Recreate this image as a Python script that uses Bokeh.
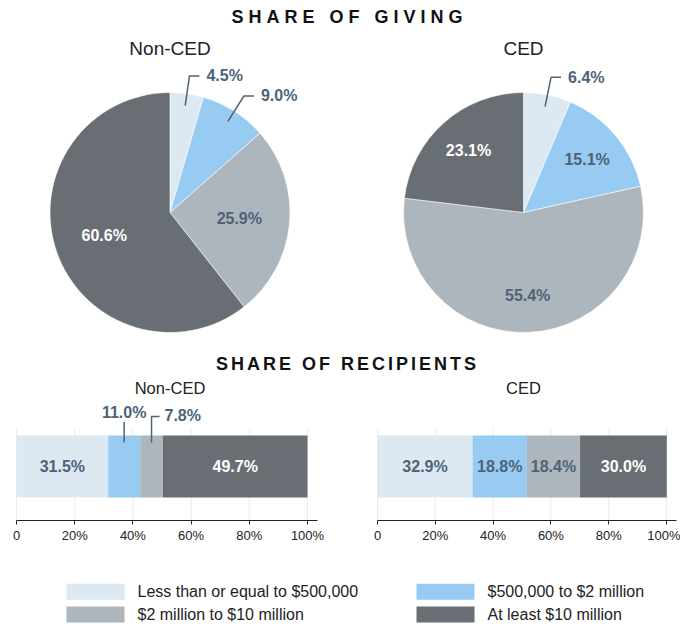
import math
from bokeh.plotting import figure
from bokeh.models import Range1d, ColumnDataSource, FixedTicker, Div
from bokeh.layouts import column, row
from bokeh.core.properties import value
from bokeh.embed import file_html
from bokeh.resources import INLINE

# ---------------- data ----------------
categories = ["Less than or equal to $500,000", "$500,000 to $2 million",
              "$2 million to $10 million", "At least $10 million"]
group_names = ["Non-CED", "CED"]
giving_non_ced = [4.5, 9.0, 25.9, 60.6]
giving_ced = [6.4, 15.1, 55.4, 23.1]
recip_non_ced = [31.5, 11.0, 7.8, 49.7]
recip_ced = [32.9, 18.8, 18.4, 30.0]
tick_values = [0, 20, 40, 60, 80, 100]
tick_labels = ["0", "20%", "40%", "60%", "80%", "100%"]

# ---------------- style ----------------
colors = ["#dce8f2", "#97cbf2", "#adb6bc", "#696e74"]
label_colors = ["#4d6378", "#4d6378", "#4d6378", "#ffffff"]
FONT = "Liberation Sans"
SLATE = "#4d6378"
INK = "#222222"
OUTSIDE_THRESHOLD = 12
R = 120
PW = 340  # width of each panel


def fmt(v):
    return f"{v:.1f}%"


def base_fig(w, h, xr, yr, **kw):
    p = figure(width=w, height=h, x_range=xr, y_range=yr, toolbar_location=None,
               output_backend="svg", outline_line_color=None, **kw)
    p.xgrid.visible = False
    p.ygrid.visible = False
    return p


def pie_fig(title, values, cx, label_r):
    W, H, cy = PW, 321, 178
    p = base_fig(W, H, Range1d(-cx, W - cx), Range1d(cy - H, cy),
                 x_axis_location=None, y_axis_location=None, min_border=0)
    total = sum(values)
    starts, ends, mids = [], [], []
    c = 0.0
    for v in values:
        a0 = math.pi / 2 - 2 * math.pi * c / total
        c += v
        a1 = math.pi / 2 - 2 * math.pi * c / total
        starts.append(a0)
        ends.append(a1)
        mids.append((a0 + a1) / 2)
    src = ColumnDataSource(dict(start=starts, end=ends, color=colors))
    p.wedge(x=0, y=0, radius=R, start_angle="start", end_angle="end",
            direction="clock", fill_color="color", line_color="white",
            line_width=0.6, source=src)
    ix, iy, it, ic = [], [], [], []
    lx, ly, lt, lxs, lys = [], [], [], [], []
    for v, m, col in zip(values, mids, label_colors):
        if v >= OUTSIDE_THRESHOLD:
            ix.append(label_r * R * math.cos(m))
            iy.append(label_r * R * math.sin(m))
            it.append(fmt(v))
            ic.append(col)
        else:
            x1, y1 = 0.9 * R * math.cos(m), 0.9 * R * math.sin(m)
            x2, y2 = 1.15 * R * math.cos(m), 1.15 * R * math.sin(m)
            x3 = x2 + 10
            lxs.append([x1, x2, x3])
            lys.append([y1, y2, y2])
            lx.append(x3 + 7)
            ly.append(y2)
            lt.append(fmt(v))
    p.multi_line(xs=lxs, ys=lys, line_color=SLATE, line_width=1.5)
    p.text(x=ix, y=iy, text=it, text_color=ic, text_font=value(FONT),
           text_font_size="16px", text_font_style="bold",
           text_align="center", text_baseline="middle")
    p.text(x=lx, y=ly, text=lt, text_color=SLATE, text_font=value(FONT),
           text_font_size="16px", text_font_style="bold",
           text_align="left", text_baseline="middle")
    p.text(x=[0], y=[164], text=[title], text_color=INK, text_font=value(FONT),
           text_font_size="19px", text_align="center", text_baseline="middle")
    return p


def bar_fig(title, values, x0_px, x100_px, title_px):
    W, H, B = PW, 167, 26
    FH = H - B
    scale = (x100_px - x0_px) / 100.0
    start = -x0_px / scale
    p = base_fig(W, H, Range1d(start, start + W / scale), Range1d(0, FH),
                 y_axis_location=None, min_border_left=0, min_border_right=0,
                 min_border_top=0, min_border_bottom=B)
    ax = p.xaxis[0]
    ax.ticker = FixedTicker(ticks=tick_values)
    ax.major_label_overrides = dict(zip(tick_values, tick_labels))
    ax.bounds = (0, 103.4)
    ax.axis_line_color = INK
    ax.major_tick_line_color = INK
    ax.minor_tick_line_color = None
    ax.major_tick_out = 4
    ax.major_tick_in = 0
    ax.major_label_standoff = 3
    ax.major_label_text_font = FONT
    ax.major_label_text_font_size = "13px"
    ax.major_label_text_color = INK
    # faint vertical gridlines
    p.segment(x0=tick_values, y0=[0] * len(tick_values), x1=tick_values,
              y1=[92] * len(tick_values), line_color="#e8edf0", line_width=1)
    lefts, rights = [], []
    c = 0.0
    for v in values:
        lefts.append(c)
        c += v
        rights.append(c)
    yc, bh = 54, 62
    p.hbar(y=yc, left=lefts, right=rights, height=bh, fill_color=colors,
           line_color=None)
    ix, it, ic = [], [], []
    k = 0
    for v, l, r, col in zip(values, lefts, rights, label_colors):
        mid = (l + r) / 2
        if v >= OUTSIDE_THRESHOLD:
            ix.append(mid)
            it.append(fmt(v))
            ic.append(col)
        else:
            if k == 0:
                p.line(x=[mid, mid], y=[yc + bh / 2 - 7, 98.5],
                       line_color=SLATE, line_width=1.5)
                p.text(x=[mid], y=[108.5], text=[fmt(v)], text_color=SLATE,
                       text_font=value(FONT), text_font_size="16px",
                       text_font_style="bold", text_align="center",
                       text_baseline="middle")
            else:
                dx = 8 / scale
                p.line(x=[mid, mid, mid + dx], y=[yc + bh / 2 - 7, 104, 104],
                       line_color=SLATE, line_width=1.5)
                p.text(x=[mid + dx + 5 / scale], y=[105], text=[fmt(v)],
                       text_color=SLATE, text_font=value(FONT),
                       text_font_size="16px", text_font_style="bold",
                       text_align="left", text_baseline="middle")
            k += 1
    p.text(x=ix, y=[yc] * len(ix), text=it,
           text_color=ic, text_font=value(FONT), text_font_size="16px",
           text_font_style="bold", text_align="center", text_baseline="middle")
    tx = (title_px - x0_px) / scale
    p.text(x=[tx], y=[132.3], text=[title], text_color=INK,
           text_font=value(FONT), text_font_size="16.5px",
           text_align="center", text_baseline="middle")
    return p


def title_div(text, ls, pad_left, pad_top, height):
    return Div(text=text, width=2 * PW, height=height, margin=(0, 0, 0, 0),
               styles={"text-align": "center", "font-family": FONT,
                       "font-weight": "bold", "font-size": "18px",
                       "line-height": "18px", "letter-spacing": f"{ls}px",
                       "color": "#111111", "padding-left": f"{pad_left}px",
                       "padding-top": f"{pad_top}px",
                       "box-sizing": "border-box"})


# ---------------- build ----------------
div1 = title_div("SHARE OF GIVING", 5, 19, 8, 34)
pie1 = pie_fig(group_names[0], giving_non_ced, 169.5, 0.58)
pie2 = pie_fig(group_names[1], giving_ced, 183, 0.69)
div2 = title_div("SHARE OF RECIPIENTS", 3, 15, 0, 24)
bar1 = bar_fig(group_names[0], recip_non_ced, 16, 307, 169.5)
bar2 = bar_fig(group_names[1], recip_ced, 37, 326, 183)

lg = base_fig(2 * PW, 80, Range1d(0, 2 * PW), Range1d(80, 0),
              x_axis_location=None, y_axis_location=None, min_border=0)
col_x = [66, 416]
row_y = [45.2, 67.9]
sx = [col_x[i % 2] + 29 for i in range(len(categories))]
sy = [row_y[i // 2] for i in range(len(categories))]
tx = [col_x[i % 2] + 58 + 13 for i in range(len(categories))]
lg.rect(x=sx, y=sy, width=58, height=16, fill_color=colors, line_color=None)
lg.text(x=tx, y=sy, text=categories, text_color=INK, text_font=value(FONT),
        text_font_size="16px", text_align="left", text_baseline="middle")

layout = column(div1, row(pie1, pie2, spacing=0), div2,
                row(bar1, bar2, spacing=0), lg, spacing=0)

open("out.html", "w").write(file_html(layout, INLINE))
